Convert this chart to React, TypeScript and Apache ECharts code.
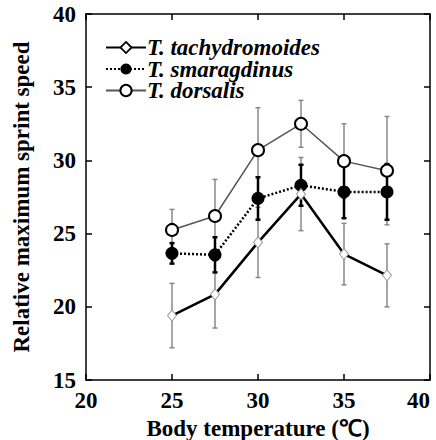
import React, { useEffect, useRef } from "react";
import * as echarts from "echarts";

const temps = [25, 27.5, 30, 32.5, 35, 37.5];
const tachy = [19.4, 20.85, 24.4, 27.7, 23.6, 22.15];
const tachyErr = [2.2, 2.3, 2.4, 2.5, 2.1, 2.15];
const smarag = [23.65, 23.55, 27.4, 28.3, 27.85, 27.85];
const smaragErr = [0.7, 1.2, 1.45, 1.4, 1.8, 1.9];
const dors = [25.25, 26.2, 30.7, 32.5, 29.95, 29.3];
const dorsErr = [1.4, 2.5, 2.9, 1.6, 2.55, 3.7];
const names = ["T. tachydromoides", "T. smaragdinus", "T. dorsalis"];

const FONT = "Liberation Serif, Times New Roman, serif";

function errSeries(vals: number[], errs: number[], color: string, width: number, z: number) {
  return {
    type: "custom",
    z,
    silent: true,
    data: temps.map((t, i) => [t, vals[i] - errs[i], vals[i] + errs[i]]),
    renderItem: (params: any, api: any) => {
      const x = api.value(0);
      const lo = api.coord([x, api.value(1)]);
      const hi = api.coord([x, api.value(2)]);
      const cw = 2.5;
      const style = { stroke: color, lineWidth: width };
      return {
        type: "group",
        children: [
          { type: "line", shape: { x1: lo[0], y1: lo[1], x2: hi[0], y2: hi[1] }, style },
          { type: "line", shape: { x1: lo[0] - cw, y1: lo[1], x2: lo[0] + cw, y2: lo[1] }, style },
          { type: "line", shape: { x1: hi[0] - cw, y1: hi[1], x2: hi[0] + cw, y2: hi[1] }, style },
        ],
      };
    },
  };
}

export default function App() {
  const ref = useRef<HTMLDivElement>(null);
  useEffect(() => {
    if (!ref.current) return;
    const chart = echarts.init(ref.current, undefined, { renderer: "svg" });
    const axisLine = { show: true, lineStyle: { color: "#000", width: 1.5 } };
    const tick = { show: true, inside: true, length: 6, lineStyle: { color: "#000", width: 1.5 } };
    const labelStyle = { fontFamily: FONT, fontSize: 23, fontWeight: "bold", color: "#000" };
    chart.setOption({
      animation: false,
      backgroundColor: "#fff",
      textStyle: { fontFamily: FONT },
      grid: { left: 86, right: 6, top: 14, bottom: 60, containLabel: false, outerBoundsMode: "none" },
      legend: {
        left: 100,
        top: 31,
        orient: "vertical",
        itemWidth: 40,
        itemHeight: 14,
        itemGap: -1.5,
        textStyle: { fontFamily: FONT, fontSize: 23, fontWeight: "bold", fontStyle: "italic", color: "#000", padding: [0, 0, 0, -4], lineHeight: 22 },
        data: [
          { name: names[0], itemStyle: { color: "#fff", borderColor: "#000", borderWidth: 1.8 } },
          { name: names[1] },
          { name: names[2], itemStyle: { color: "#fff", borderColor: "#000", borderWidth: 2 } },
        ],
      },
      xAxis: [
        {
          type: "value",
          min: 20,
          max: 40,
          interval: 5,
          axisLine,
          axisTick: tick,
          splitLine: { show: false },
          axisLabel: { margin: 9, alignMaxLabel: "right", ...labelStyle },
          name: "Body temperature (\u2103)",
          nameLocation: "middle",
          nameGap: 28,
          nameTextStyle: { ...labelStyle, fontSize: 23 },
        },
        {
          type: "value",
          position: "top",
          min: 20,
          max: 40,
          interval: 5,
          axisLine,
          axisTick: tick,
          splitLine: { show: false },
          axisLabel: { show: false },
        },
      ],
      yAxis: [
        {
          type: "value",
          min: 15,
          max: 40,
          interval: 5,
          axisLine,
          axisTick: tick,
          splitLine: { show: false },
          axisLabel: { margin: 10, ...labelStyle },
          name: "Relative maximum sprint speed",
          nameLocation: "middle",
          nameGap: 53,
          nameTextStyle: { ...labelStyle, fontSize: 23 },
        },
        {
          type: "value",
          position: "right",
          min: 15,
          max: 40,
          interval: 5,
          axisLine,
          axisTick: tick,
          splitLine: { show: false },
          axisLabel: { show: false },
        },
      ],
      series: [
        errSeries(dors, dorsErr, "#888", 1.5, 1),
        errSeries(tachy, tachyErr, "#888", 1.5, 1),
        errSeries(smarag, smaragErr, "#000", 2.5, 2),
        {
          name: names[2],
          type: "line",
          z: 3,
          data: temps.map((t, i) => [t, dors[i]]),
          symbol: "circle",
          symbolSize: 12,
          showAllSymbol: true,
          itemStyle: { color: "#fff", borderColor: "#000", borderWidth: 2 },
          lineStyle: { color: "#555", width: 1.5 },
        },
        {
          name: names[1],
          type: "line",
          z: 4,
          data: temps.map((t, i) => [t, smarag[i]]),
          symbol: "circle",
          symbolSize: 13,
          itemStyle: { color: "#000", borderColor: "#000", borderWidth: 0 },
          lineStyle: { color: "#000", width: 2.5, type: [2, 2] },
        },
        {
          name: names[0],
          type: "line",
          z: 5,
          data: temps.map((t, i) => [t, tachy[i]]),
          symbol: "diamond",
          symbolSize: [9, 11],
          itemStyle: { color: "#fff", borderColor: "#999", borderWidth: 1 },
          lineStyle: { color: "#000", width: 2.5 },
        },
      ],
    });
    return () => chart.dispose();
  }, []);
  return <div ref={ref} style={{ width: 436, height: 440, position: "absolute", left: 0, top: 0 }} />;
}
